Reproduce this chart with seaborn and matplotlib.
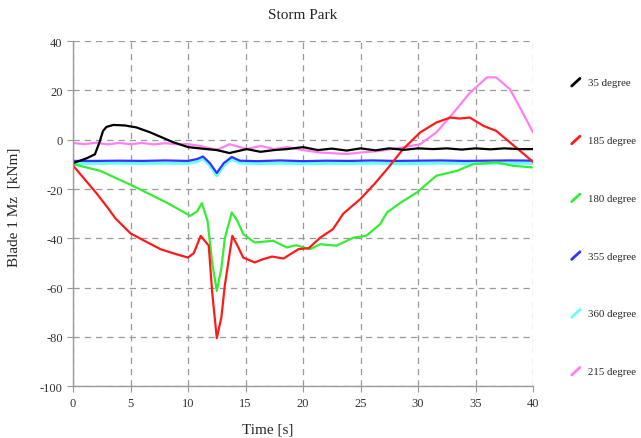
import numpy as np
import pandas as pd
import matplotlib
matplotlib.use('Agg')
import matplotlib.pyplot as plt
from matplotlib.lines import Line2D
from matplotlib.legend_handler import HandlerLine2D
import seaborn as sns

# データ
t_35 = [0, 0.6, 1.2, 1.9, 2.3, 2.6, 2.9, 3.5, 4.5, 5.5, 6.7, 7.7, 8.7, 10, 11.6, 12.5,
        13.6, 15.1, 16.3, 17.5, 18.6, 20, 21.3, 22.5, 23.8, 25, 26.3, 27.5, 28.8, 30,
        31.3, 32.5, 33.8, 35, 36.3, 37.5, 38.8, 40]
v_35 = [-9.5, -8.5, -7.5, -5.9, -1, 3.5, 5.2, 6, 5.8, 5, 3, 1, -1, -3, -3.8, -4.2,
        -5.4, -3.8, -4.9, -4.2, -3.8, -3, -4.2, -3.6, -4.4, -3.5, -4.3, -3.5, -4.1, -3.5,
        -3.8, -3.5, -4, -3.5, -3.9, -3.5, -3.8, -3.8]

t_185 = [0, 1, 2, 3, 3.7, 5, 6, 7.6, 9, 10, 10.5, 11.1, 11.8, 12.1, 12.5, 12.9, 13.2,
         13.85, 14.3, 14.8, 15.8, 16.5, 17.3, 18.3, 19.6, 20.5, 21.5, 22.6, 23.5, 25,
         26.2, 27.3, 28.7, 30.2, 31.6, 32.8, 33.6, 34.5, 35.7, 36.8, 38, 39, 40]
v_185 = [-10.5, -16, -21.5, -27.5, -32, -38, -40.5, -44.4, -46.5, -47.8, -46, -39, -43,
         -62, -80.5, -72, -59, -39, -43, -47.8, -49.8, -48.5, -47.4, -48.2, -44.4, -44,
         -39.7, -36.3, -30, -24, -18, -12, -3.8, 3, 7, 9, 8.6, 9, 5.6, 3.6, -1.1, -5, -9]

t_180 = [0, 2.35, 5.2, 8.1, 10.2, 10.8, 11.2, 11.7, 12.1, 12.5, 12.9, 13.2, 13.8, 14.3,
         14.8, 15.8, 17.4, 18.6, 19.4, 20.6, 21.5, 22.9, 24.4, 25.5, 26.7, 27.3, 28.5,
         29.9, 31.6, 33.4, 34.8, 36.8, 38.3, 39.9]
v_180 = [-9.9, -12.6, -18.7, -25.4, -30.9, -29, -25.7, -33, -50, -61.3, -52, -40,
         -29.5, -33, -38.3, -41.7, -41, -43.7, -42.8, -44.4, -42.4, -43, -39.7, -39,
         -34.3, -29.5, -25.5, -21.4, -14.6, -12.6, -9.9, -9.2, -10.6, -11.2]

t_355 = [0, 2, 4, 6, 8, 10, 10.8, 11.3, 11.9, 12.5, 13.1, 13.8, 14.5, 16, 18, 20, 22,
         24, 26, 28, 30, 32, 34, 36, 38, 40]
v_355 = [-8.6, -8.6, -8.5, -8.6, -8.4, -8.6, -7.8, -6.8, -9.5, -13.5, -9.5, -7.0, -8.5,
         -8.7, -8.4, -8.7, -8.5, -8.6, -8.4, -8.6, -8.5, -8.4, -8.6, -8.5, -8.4, -8.5]

t_360 = [0, 2, 4, 6, 8, 10, 10.8, 11.3, 11.9, 12.5, 13.1, 13.8, 14.5, 16, 18, 20, 22,
         24, 26, 28, 30, 32, 34, 36, 38, 40]
v_360 = [-9.6, -9.6, -9.5, -9.6, -9.5, -9.6, -8.8, -7.6, -10.5, -14.6, -10.5, -7.8, -9.4,
         -9.7, -9.5, -9.7, -9.6, -9.6, -9.5, -9.7, -9.6, -9.5, -9.6, -9.6, -9.5, -9.6]

t_215 = [0, 1, 2, 3, 4, 5, 6, 7, 8, 9, 10, 11, 12.2, 12.6, 13.6, 15.1, 16.3, 17.5, 18.6,
         20, 21.5, 23.8, 25, 26.5, 28.7, 30.2, 31.6, 33.1, 34.5, 36, 36.8, 38, 39.1, 40]
v_215 = [-1.3, -1.8, -1.2, -1.9, -1.3, -1.8, -1.3, -1.9, -1.4, -1.8, -1.8, -2.5, -3.8,
         -4.0, -1.8, -3.8, -2.5, -3.8, -3.0, -4.2, -5.2, -5.8, -5.2, -4.6, -3.1, -1.8, 3,
         11, 19, 25.3, 25.3, 20.5, 11, 3]

labels = ['35 degree', '185 degree', '180 degree', '355 degree', '360 degree', '215 degree']
colors = ['#000000', '#ff1a1a', '#33ee33', '#3333ff', '#66ffff', '#ff80f0']
times = [t_35, t_185, t_180, t_355, t_360, t_215]
values = [v_35, v_185, v_180, v_355, v_360, v_215]

df = pd.concat([pd.DataFrame({'Time': t, 'Mz': v, 'case': lab})
                for t, v, lab in zip(times, values, labels)], ignore_index=True)

sns.set_style('white')
plt.rcParams['font.family'] = ['Liberation Serif', 'DejaVu Serif']
plt.rcParams['axes.unicode_minus'] = False

fig = plt.figure(figsize=(6.41, 4.39), dpi=100)
ax = fig.add_axes([0.114, 0.118, 0.7175, 0.786])

# 描画順 (シアンは青の下)
draw_order = ['215 degree', '360 degree', '355 degree', '180 degree', '185 degree', '35 degree']
pal = dict(zip(labels, colors))
for lab in draw_order:
    sns.lineplot(data=df[df['case'] == lab], x='Time', y='Mz', color=pal[lab],
                 lw=2.2 if lab == '360 degree' else 1.6, sort=False, estimator=None,
                 ax=ax, legend=False)

ax.set_xlim(0, 40)
ax.set_ylim(-100, 40)
ax.set_xticks(np.arange(0, 41, 5))
ax.set_yticks(np.arange(-100, 41, 20))
ax.grid(True, color='#999999', linestyle=(0, (5, 4)), linewidth=0.9)
for s in ['top', 'right']:
    ax.spines[s].set_visible(False)
for s in ['left', 'bottom']:
    ax.spines[s].set_color('#999999')
    ax.spines[s].set_linewidth(1.0)
ax.tick_params(direction='out', length=4, color='#999999', labelsize=9,
               labelcolor='#333333', bottom=True, left=True)

ax.set_title('Storm Park', fontsize=11, pad=17)
ax.set_xlabel('Time [s]', fontsize=11)
ax.set_ylabel('Blade 1 Mz  [kNm]', fontsize=11)
ax.xaxis.set_label_coords(0.424, -0.105)
ax.yaxis.set_label_coords(-0.115, 0.52)


# 凡例の線を斜めに描くハンドラ
class DiagHandler(HandlerLine2D):
    def create_artists(self, legend, orig_handle, xdescent, ydescent, width, height,
                       fontsize, trans):
        line = Line2D([0.05 * width, width], [-0.1 * height, 0.9 * height],
                      color=orig_handle.get_color(), lw=2)
        line.set_transform(trans)
        return [line]


handles = [Line2D([], [], color=c) for c in colors]
leg = fig.legend(handles, labels, loc='upper left', bbox_to_anchor=(0.876, 0.843),
                 frameon=False, fontsize=7.8, handlelength=0.8, handletextpad=0.7,
                 labelspacing=4.45, handler_map={Line2D: DiagHandler()})

plt.savefig('out.png', dpi=100)
